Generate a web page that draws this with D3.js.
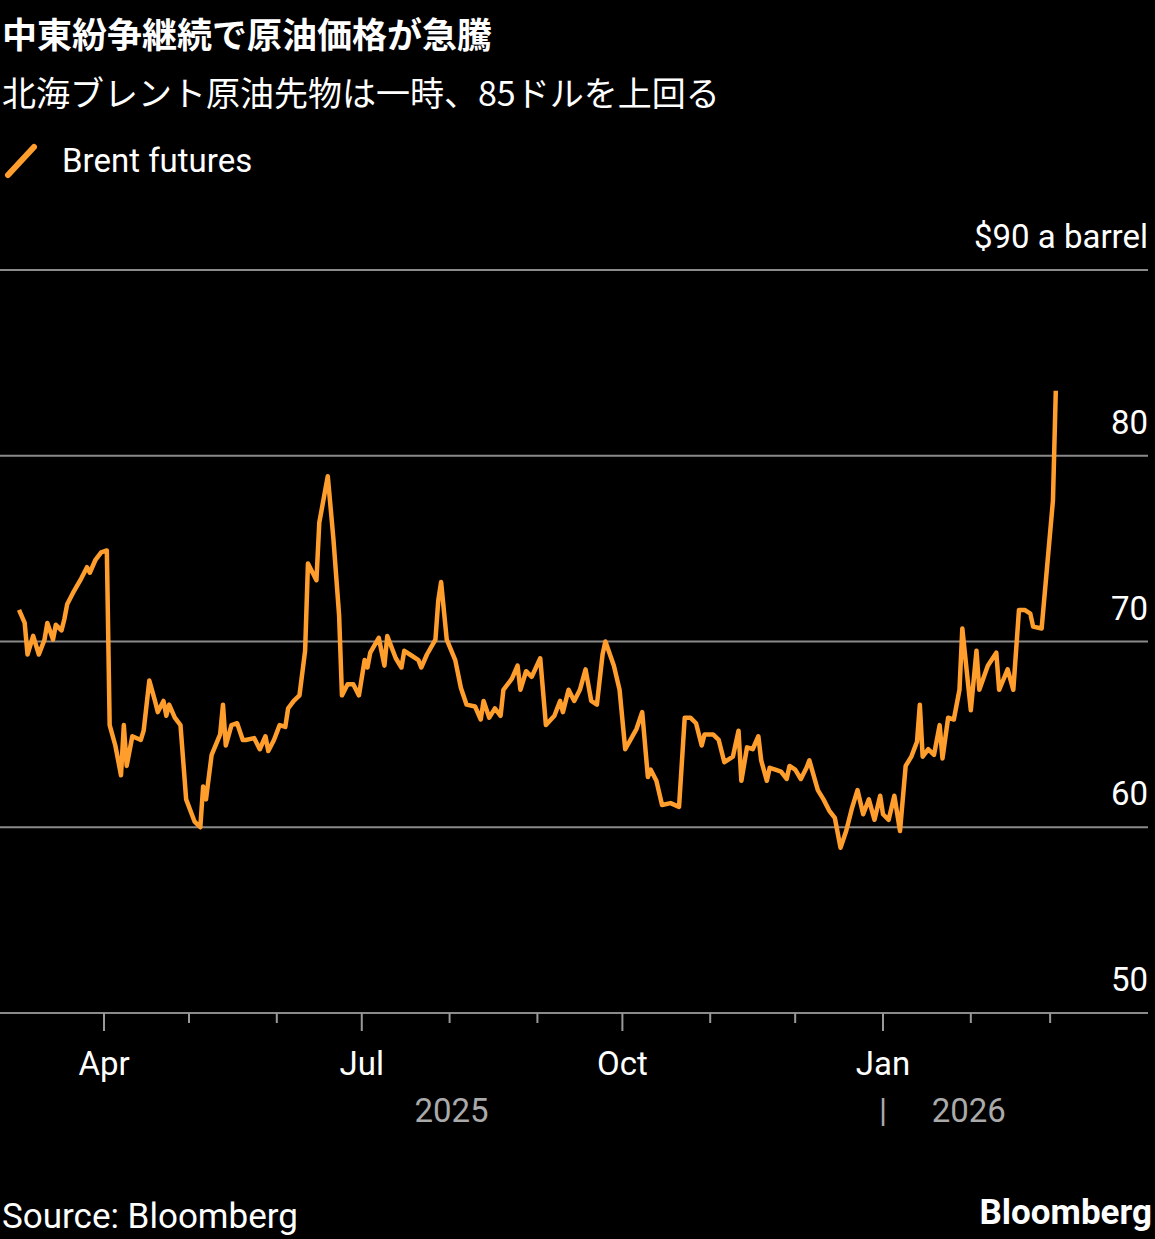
<!DOCTYPE html>
<html>
<head>
<meta charset="utf-8">
<script src="https://cdn.jsdelivr.net/npm/d3@7"></script>
<style>
  body { margin: 0; background: #000; }
  svg { display: block; font-family: "Noto Sans CJK JP", "Noto Sans", sans-serif; }
</style>
</head>
<body>
<svg id="chart" width="1155" height="1239"></svg>
<script>
// Brent futures, $ a barrel
const dates = [
  "2025-03-02","2025-03-04","2025-03-05","2025-03-07","2025-03-09","2025-03-11","2025-03-12","2025-03-14","2025-03-15","2025-03-17",
  "2025-03-18","2025-03-19","2025-03-21","2025-03-24","2025-03-26","2025-03-27","2025-03-29","2025-03-31","2025-04-02","2025-04-03",
  "2025-04-05","2025-04-07","2025-04-08","2025-04-09","2025-04-11","2025-04-14","2025-04-15","2025-04-17","2025-04-19","2025-04-20",
  "2025-04-22","2025-04-23","2025-04-24","2025-04-26","2025-04-28","2025-04-30","2025-05-03","2025-05-05","2025-05-06","2025-05-07",
  "2025-05-09","2025-05-12","2025-05-13","2025-05-14","2025-05-16","2025-05-18","2025-05-20","2025-05-21","2025-05-24","2025-05-26",
  "2025-05-28","2025-05-29","2025-05-31","2025-06-02","2025-06-04","2025-06-05","2025-06-07","2025-06-09","2025-06-11","2025-06-12",
  "2025-06-15","2025-06-16","2025-06-19","2025-06-21","2025-06-23","2025-06-24","2025-06-26","2025-06-28","2025-06-30","2025-07-02",
  "2025-07-03","2025-07-04","2025-07-07","2025-07-09","2025-07-10","2025-07-13","2025-07-15","2025-07-16","2025-07-18","2025-07-21",
  "2025-07-22","2025-07-24","2025-07-27","2025-07-28","2025-07-29","2025-07-31","2025-08-03","2025-08-05","2025-08-07","2025-08-10",
  "2025-08-12","2025-08-13","2025-08-15","2025-08-17","2025-08-19","2025-08-20","2025-08-23","2025-08-25","2025-08-26","2025-08-28",
  "2025-08-30","2025-09-02","2025-09-04","2025-09-07","2025-09-09","2025-09-10","2025-09-12","2025-09-14","2025-09-16","2025-09-18",
  "2025-09-20","2025-09-22","2025-09-24","2025-09-25","2025-09-28","2025-09-30","2025-10-02","2025-10-06","2025-10-08","2025-10-10",
  "2025-10-11","2025-10-13","2025-10-15","2025-10-18","2025-10-21","2025-10-23","2025-10-25","2025-10-27","2025-10-29","2025-10-30",
  "2025-11-02","2025-11-04","2025-11-06","2025-11-09","2025-11-11","2025-11-12","2025-11-14","2025-11-16","2025-11-18","2025-11-19",
  "2025-11-21","2025-11-22","2025-11-24","2025-11-26","2025-11-28","2025-11-29","2025-12-01","2025-12-03","2025-12-05","2025-12-06",
  "2025-12-09","2025-12-11","2025-12-13","2025-12-15","2025-12-17","2025-12-19","2025-12-21","2025-12-23","2025-12-25","2025-12-27",
  "2025-12-29","2025-12-31","2026-01-01","2026-01-03","2026-01-05","2026-01-07","2026-01-09","2026-01-11","2026-01-13","2026-01-14",
  "2026-01-15","2026-01-17","2026-01-19","2026-01-21","2026-01-22","2026-01-24","2026-01-26","2026-01-28","2026-01-29","2026-02-01",
  "2026-02-03","2026-02-04","2026-02-07","2026-02-10","2026-02-11","2026-02-14","2026-02-16","2026-02-18","2026-02-20","2026-02-22",
  "2026-02-23","2026-02-26","2026-03-02","2026-03-03"
];
const brent = [
  71.7,71.0,69.3,70.3,69.3,70.1,71.0,70.1,70.9,70.6,
  71.2,72.0,72.6,73.4,74.0,73.7,74.4,74.8,74.9,65.5,
  64.4,62.8,65.5,63.3,64.9,64.7,65.2,67.9,66.8,66.2,
  66.8,66.0,66.6,65.9,65.5,61.5,60.3,60.0,62.2,61.5,
  63.9,65.0,66.6,64.4,65.5,65.6,64.7,64.7,64.8,64.2,
  64.9,64.1,64.7,65.5,65.4,66.4,66.8,67.1,69.5,74.2,
  73.3,76.4,78.9,75.5,71.4,67.1,67.7,67.7,67.1,69.0,
  68.6,69.4,70.2,68.7,70.3,69.1,68.6,69.5,69.3,69.0,
  68.6,69.3,70.1,72.2,73.2,70.1,69.0,67.5,66.6,66.5,
  65.8,66.8,65.9,66.4,66.0,67.4,68.0,68.7,67.4,68.4,
  68.1,69.1,65.5,66.0,66.8,66.2,67.4,66.8,67.4,68.5,
  66.8,66.6,69.3,70.0,68.7,67.4,64.2,65.3,66.2,62.7,
  63.1,62.5,61.2,61.3,61.1,65.9,65.9,65.6,64.4,65.0,
  65.0,64.7,63.5,63.8,65.2,62.5,64.3,64.2,64.9,63.6,
  62.5,63.2,63.1,63.0,62.6,63.3,63.1,62.6,63.2,63.6,
  62.0,61.5,60.9,60.5,58.9,59.8,61.0,62.0,60.7,61.5,
  60.4,61.7,60.7,60.4,61.7,59.8,63.3,63.8,64.6,66.6,
  63.8,64.2,63.9,65.5,63.7,65.9,65.8,67.4,70.7,66.3,
  69.5,67.4,68.7,69.4,67.4,68.5,67.4,71.7,71.7,71.5,
  70.8,70.7,77.6,83.5
];
const yTicks = [50, 60, 70, 80, 90];
const monthTicks = ["2025-04-01","2025-05-01","2025-06-01","2025-07-01","2025-08-01","2025-09-01",
  "2025-10-01","2025-11-01","2025-12-01","2026-01-01","2026-02-01","2026-03-01"];
const quarterLabels = { "2025-04-01": "Apr", "2025-07-01": "Jul", "2025-10-01": "Oct", "2026-01-01": "Jan" };

const parse = d3.timeParse("%Y-%m-%d");
const data = dates.map((d, i) => ({ date: parse(d), value: brent[i] }));

const svg = d3.select("#chart");
const W = 1155;
const plotLeft = 0, plotRight = 1148, plotTop = 270, plotBottom = 1013;
const orange = "#ff9e2c";
const latin = "Roboto, 'Noto Sans', sans-serif";

const x = d3.scaleTime()
  .domain([parse("2025-04-01"), parse("2026-01-01")])
  .range([104, 883]);
const y = d3.scaleLinear().domain([50, 90]).range([plotBottom, plotTop]);

// titles
svg.append("text").attr("x", 2).attr("y", 48)
  .attr("fill", "#fff").attr("font-size", 35).attr("font-weight", "bold")
  .text("中東紛争継続で原油価格が急騰");
svg.append("text").attr("x", 2).attr("y", 106)
  .attr("fill", "#fff").attr("font-size", 34)
  .text("北海ブレント原油先物は一時、85ドルを上回る");

// legend
svg.append("line").attr("x1", 8).attr("y1", 175).attr("x2", 34).attr("y2", 147)
  .attr("stroke", orange).attr("stroke-width", 6).attr("stroke-linecap", "round");
svg.append("text").attr("x", 62).attr("y", 172)
  .attr("fill", "#fff").attr("font-size", 33).attr("font-family", latin)
  .text("Brent futures");

// gridlines + y labels
yTicks.forEach(t => {
  svg.append("line").attr("x1", plotLeft).attr("x2", plotRight)
    .attr("y1", y(t)).attr("y2", y(t))
    .attr("stroke", "#8a8a8a").attr("stroke-width", 2);
  svg.append("text").attr("x", plotRight).attr("y", y(t) - 22)
    .attr("text-anchor", "end").attr("fill", "#fff")
    .attr("font-size", 33).attr("font-family", latin)
    .text(t === 90 ? "$90 a barrel" : t);
});

// x axis ticks
monthTicks.forEach(m => {
  const px = x(parse(m));
  const major = quarterLabels[m];
  svg.append("line").attr("x1", px).attr("x2", px)
    .attr("y1", plotBottom).attr("y2", plotBottom + (major ? 18 : 10))
    .attr("stroke", "#999").attr("stroke-width", 2);
  if (major) {
    svg.append("text").attr("x", px).attr("y", 1075)
      .attr("text-anchor", "middle").attr("fill", "#fff")
      .attr("font-size", 33).attr("font-family", latin).text(major);
  }
});
svg.append("text").attr("x", x(parse("2025-08-01")) + 2).attr("y", 1122)
  .attr("text-anchor", "middle").attr("fill", "#aaa")
  .attr("font-size", 33).attr("font-family", latin).text("2025");
svg.append("text").attr("x", x(parse("2026-01-01"))).attr("y", 1122)
  .attr("text-anchor", "middle").attr("fill", "#aaa")
  .attr("font-size", 33).attr("font-family", latin).text("|");
svg.append("text").attr("x", x(parse("2026-02-01")) - 2).attr("y", 1122)
  .attr("text-anchor", "middle").attr("fill", "#aaa")
  .attr("font-size", 33).attr("font-family", latin).text("2026");

// line
const line = d3.line().x(d => x(d.date)).y(d => y(d.value));
svg.append("path").datum(data)
  .attr("d", line).attr("fill", "none")
  .attr("stroke", orange).attr("stroke-width", 4.5)
  .attr("stroke-linejoin", "round");

// footer
svg.append("text").attr("x", 2).attr("y", 1228)
  .attr("fill", "#fff").attr("font-size", 35).attr("font-family", latin)
  .text("Source: Bloomberg");
svg.append("text").attr("x", W - 3).attr("y", 1224)
  .attr("text-anchor", "end").attr("fill", "#fff")
  .attr("font-size", 35).attr("font-weight", "bold").attr("font-family", latin)
  .text("Bloomberg");
</script>
</body>
</html>
